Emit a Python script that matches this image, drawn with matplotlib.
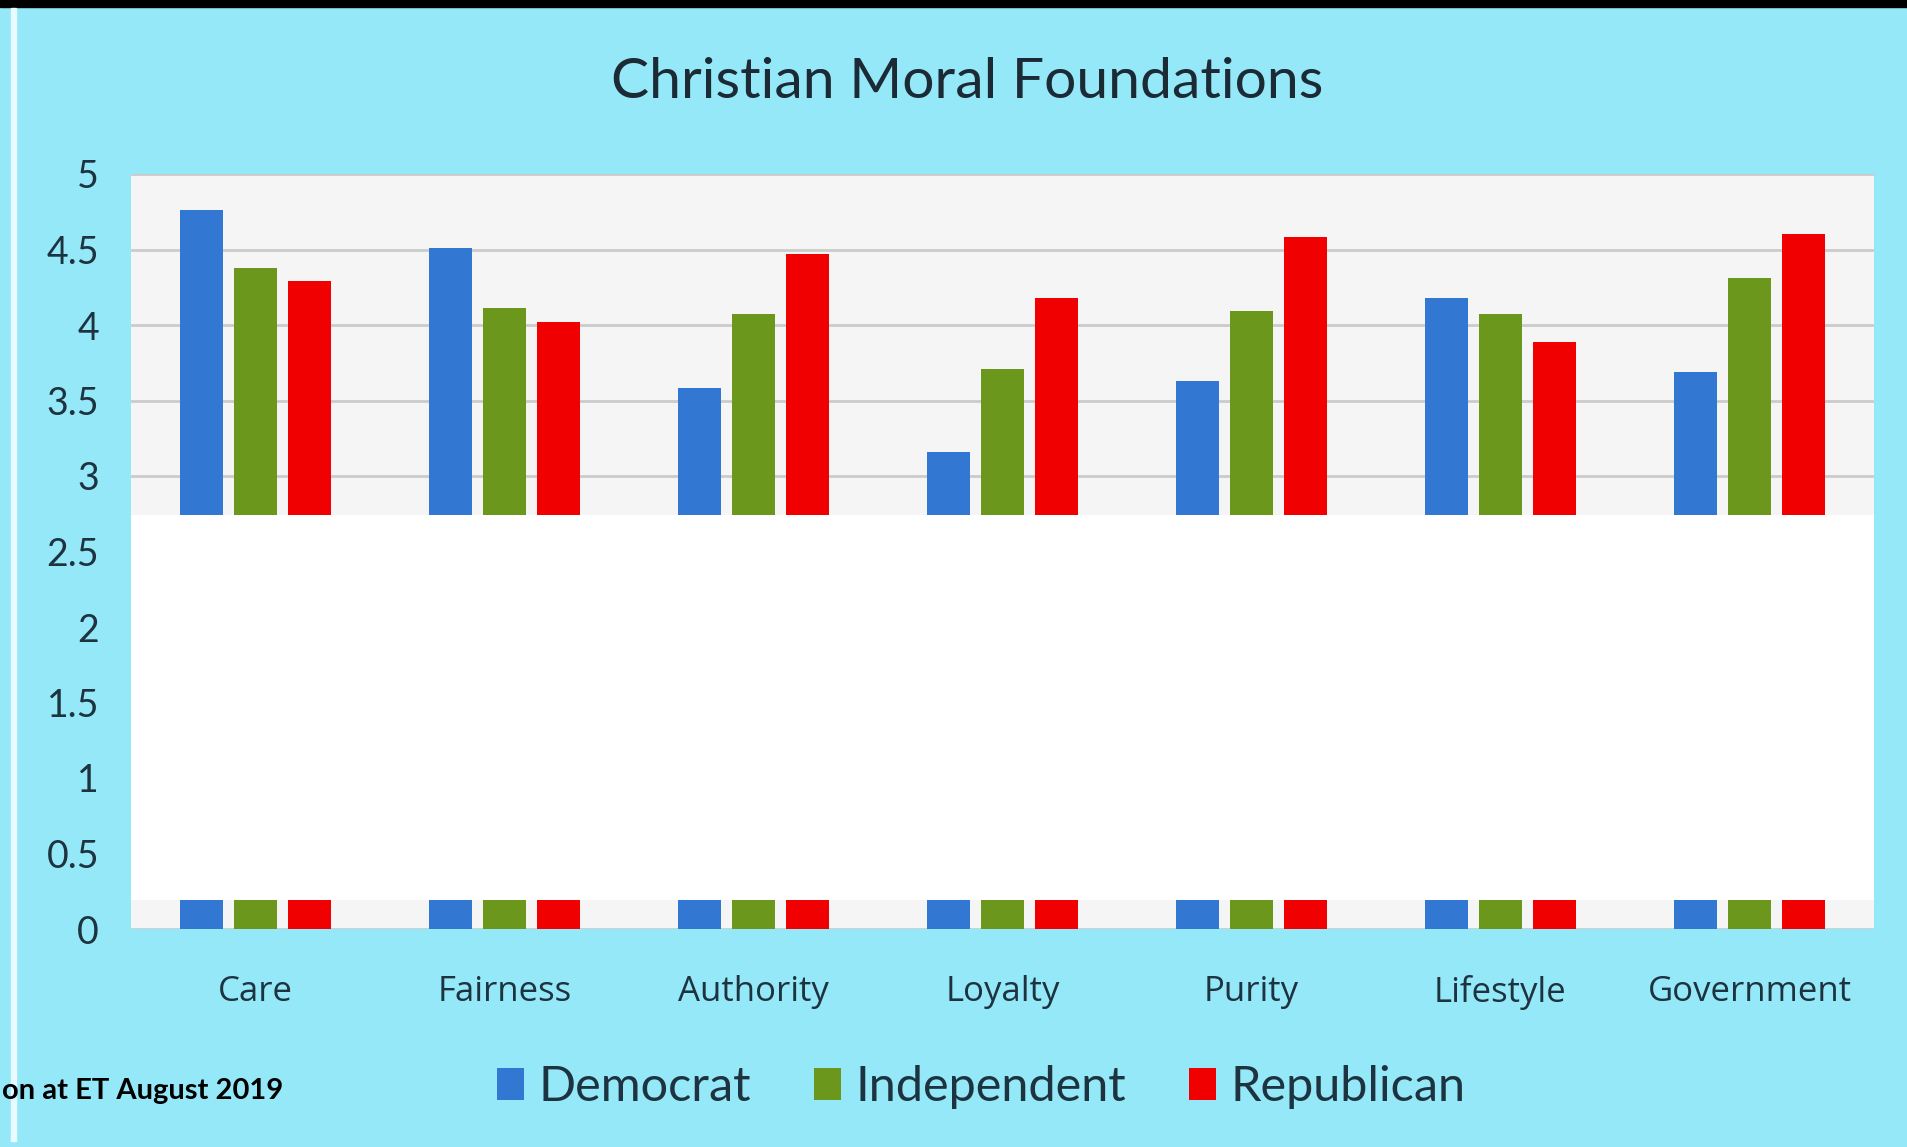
import matplotlib.pyplot as plt
import numpy as np
from matplotlib.patches import Patch, Rectangle

categories = ["Care", "Fairness", "Authority", "Loyalty", "Purity", "Lifestyle", "Government"]
democrat = [4.76, 4.51, 3.58, 3.16, 3.63, 4.18, 3.69]
independent = [4.38, 4.11, 4.07, 3.71, 4.09, 4.07, 4.31]
republican = [4.29, 4.02, 4.47, 4.18, 4.58, 3.89, 4.60]
series_names = ["Democrat", "Independent", "Republican"]
y_ticks = [0, 0.5, 1, 1.5, 2, 2.5, 3, 3.5, 4, 4.5, 5]
y_tick_labels = ["0", "0.5", "1", "1.5", "2", "2.5", "3", "3.5", "4", "4.5", "5"]

bg = "#95e8f8"
text_col = "#1d3340"
colors = ["#3278d2", "#6b981c", "#f00000"]

plt.rcParams["font.family"] = ["Lato", "DejaVu Sans"]

fig = plt.figure(figsize=(19.08, 11.47), dpi=100, facecolor=bg)
ax = fig.add_axes([131 / 1908, 1 - 929 / 1147, (1874 - 131) / 1908, (929 - 174) / 1147])
ax.set_facecolor("#f6f5f5")

x = np.arange(len(categories))
width = 0.175
step = 0.217
for i, (vals, name) in enumerate(zip([democrat, independent, republican], series_names)):
    ax.bar(x + (i - 1) * step, vals, width, color=colors[i], label=name, zorder=2)

# white band hiding the middle of the axis
ax.axhspan(0.19, 2.74, color="white", zorder=3, lw=0)

ax.set_xlim(-0.5, len(categories) - 0.5)
ax.set_ylim(0, 5)
ax.set_yticks(y_ticks)
ax.set_yticklabels(y_tick_labels)
ax.set_xticks(x)
ax.set_xticklabels(categories, fontfamily=["Open Sans", "DejaVu Sans"])
ax.yaxis.grid(True, color="#cbcbcb", lw=2, zorder=1)
ax.set_axisbelow(True)
for s in ax.spines.values():
    s.set_visible(False)
ax.tick_params(axis="y", length=0, pad=23, labelsize=27, labelcolor=text_col)
ax.tick_params(axis="x", length=0, pad=33, labelsize=25, labelcolor=text_col)

fig.text(967 / 1908, 1 - 83 / 1147, "Christian Moral Foundations", ha="center", va="center",
         fontsize=41, color="#1b2a35")

handles = [Patch(facecolor=c, label=n) for c, n in zip(colors, series_names)]
fig.legend(handles=handles, loc="center", bbox_to_anchor=(981 / 1908, 1 - 1087 / 1147), ncol=3,
           frameon=False, fontsize=35, handlelength=0.55, handleheight=0.65, handletextpad=0.3,
           columnspacing=1.3, labelcolor=text_col)

fig.text(0.001, 1 - 1091 / 1147, "on at ET August 2019", ha="left", va="center",
         fontsize=21, fontweight="bold", color="black", zorder=10)

# border pieces of the screenshot
fig.patches.append(Rectangle((0, 1 - 7 / 1147), 1, 7 / 1147, transform=fig.transFigure,
                             color="black", zorder=5))
fig.patches.append(Rectangle((11 / 1908, 0.005), 5 / 1908, 1 - 0.012, transform=fig.transFigure,
                             color="#e8fbff", zorder=5))

fig.savefig("out.png", dpi=100, facecolor=bg)
